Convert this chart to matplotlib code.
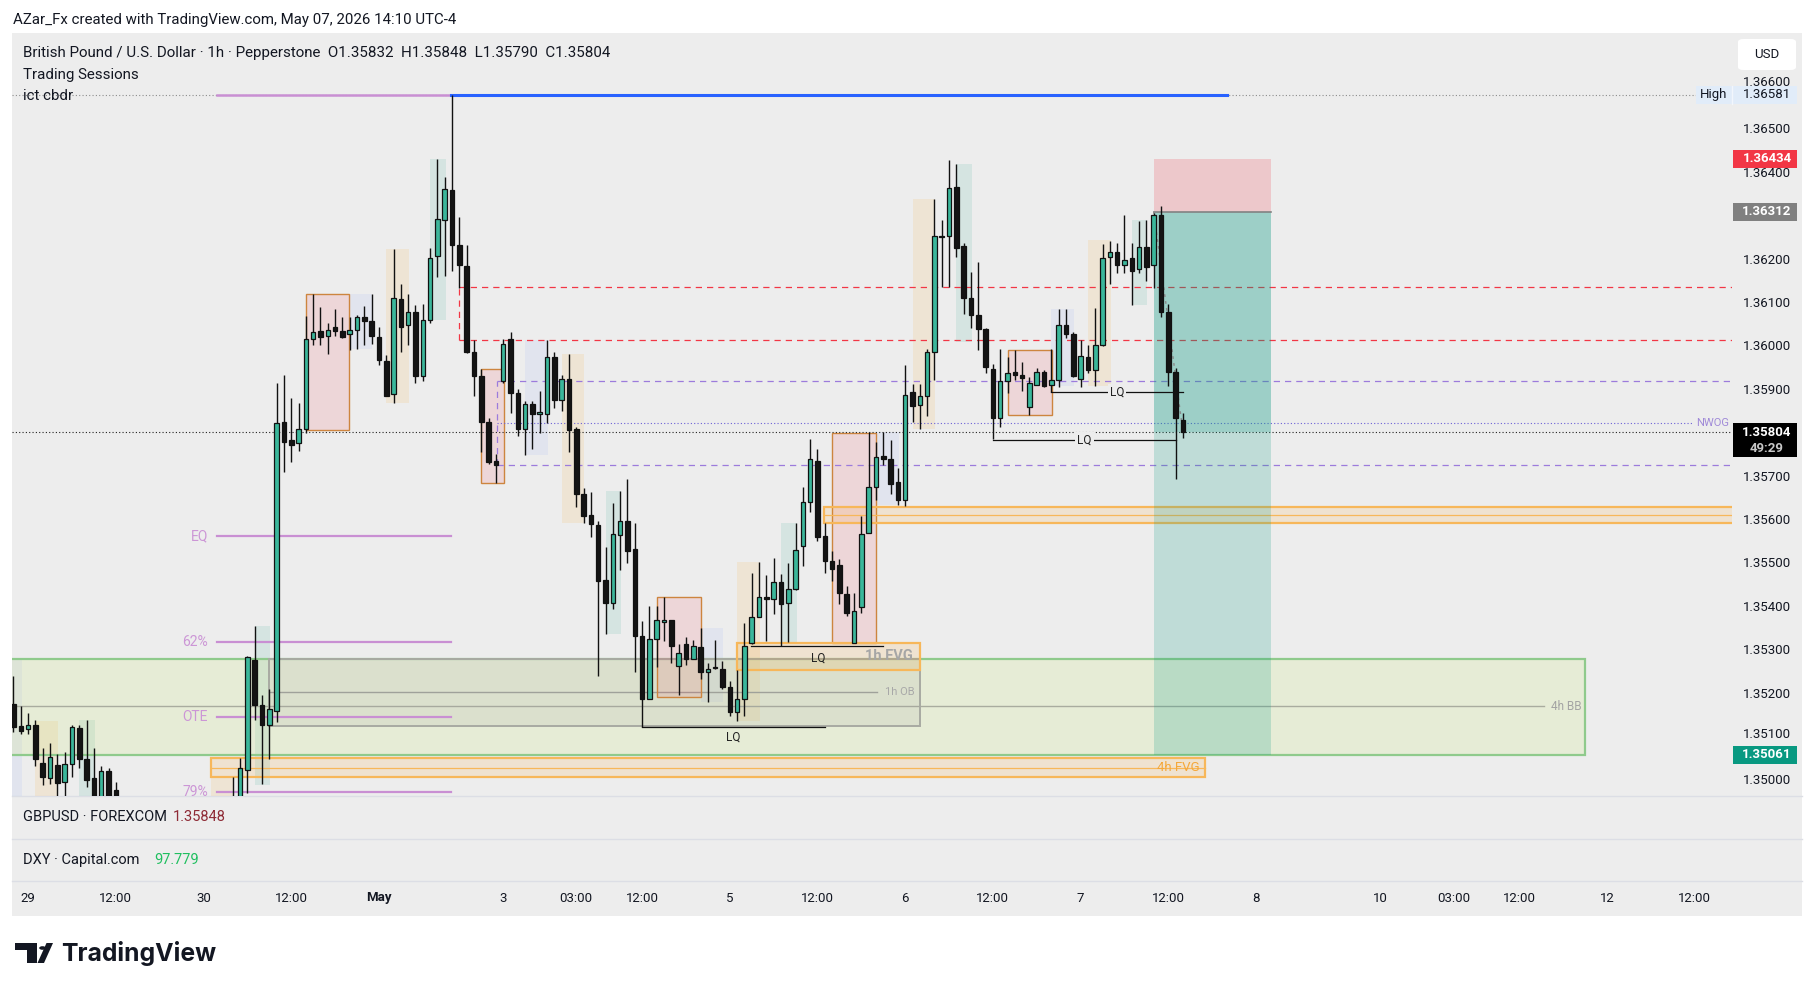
import numpy as np
import matplotlib
matplotlib.use("Agg")
import matplotlib.pyplot as plt
from matplotlib.patches import Rectangle, Polygon, Circle, FancyBboxPatch
from matplotlib.lines import Line2D
import matplotlib.transforms as mtransforms

W, H = 1815, 991
BG = '#ededed'
UP = '#3bb79b'
DN = '#141414'
plt.rcParams['font.family'] = ['Roboto', 'DejaVu Sans']

nan = np.nan
HID = [nan] * 15   # bars 15-29 sit below the visible range

# GBPUSD 1h candles, bar 0 = Apr 28 22:00, bar 67 = Sunday May 3 17:00
opens = [1.35178, 1.35127, 1.35119, 1.35130, 1.35042, 1.35006, 1.35037, 1.34998, 1.35038, 1.35123,
         1.35051, 1.35006, 1.34920, 1.35022, 1.34980] + HID + [
         1.34920, 1.34950, 1.35026, 1.35278, 1.35176, 1.35130, 1.35162, 1.35828, 1.35785, 1.35778,
         1.35810, 1.36018, 1.36036, 1.36026, 1.36046, 1.36036, 1.36031, 1.36039, 1.36068, 1.36061,
         1.36023, 1.35968, 1.35891, 1.36110, 1.36050, 1.36081, 1.35933, 1.36063, 1.36210, 1.36293,
         1.36361, 1.36235, 1.36187, 1.35989, 1.35933, 1.35828, 1.35738, 1.35921, 1.36018, 1.35893,
         1.35812, 1.35868, 1.35846, 1.35846, 1.35976, 1.35878, 1.35926, 1.35810, 1.35662, 1.35613,
         1.35590, 1.35463, 1.35410, 1.35567, 1.35598, 1.35535, 1.35333, 1.35190, 1.35328, 1.35367,
         1.35370, 1.35264, 1.35315, 1.35281, 1.35308, 1.35252, 1.35260, 1.35259, 1.35217, 1.35160,
         1.35188, 1.35317, 1.35378, 1.35424, 1.35420, 1.35458, 1.35410, 1.35442, 1.35542, 1.35643,
         1.35738, 1.35565, 1.35507, 1.35498, 1.35431, 1.35317, 1.35400, 1.35572, 1.35678, 1.35748,
         1.35743, 1.35690, 1.35648, 1.35896, 1.35867, 1.35888, 1.35988, 1.36255, 1.36256, 1.36369,
         1.36232, 1.36113, 1.36074, 1.36041, 1.35949, 1.35836, 1.35921, 1.35943, 1.35935, 1.35862,
         1.35912, 1.35943, 1.35912, 1.35923, 1.36050, 1.36031, 1.35926, 1.35976, 1.35947, 1.36004,
         1.36207, 1.36219, 1.36190, 1.36205, 1.36180, 1.36231, 1.36189, 1.36303, 1.36081, 1.35942,
         1.35832]
highs = [1.35241, 1.35172, 1.35156, 1.35141, 1.35077, 1.35088, 1.35063, 1.35067, 1.35130, 1.35130,
         1.35141, 1.35077, 1.35035, 1.35030, 1.34998] + HID + [
         1.35009, 1.35053, 1.35288, 1.35357, 1.35199, 1.35211, 1.35917, 1.35936, 1.35883, 1.35872,
         1.36071, 1.36121, 1.36092, 1.36055, 1.36087, 1.36069, 1.36068, 1.36074, 1.36095, 1.36121,
         1.36047, 1.35981, 1.36226, 1.36145, 1.36121, 1.36097, 1.36099, 1.36228, 1.36433, 1.36391,
         1.36581, 1.36300, 1.36235, 1.36016, 1.35949, 1.35836, 1.35754, 1.36018, 1.36035, 1.35904,
         1.35875, 1.35875, 1.35899, 1.36016, 1.35989, 1.35936, 1.35984, 1.35815, 1.35674, 1.35667,
         1.35600, 1.35539, 1.35641, 1.35669, 1.35696, 1.35595, 1.35368, 1.35403, 1.35403, 1.35423,
         1.35371, 1.35315, 1.35331, 1.35326, 1.35352, 1.35271, 1.35326, 1.35276, 1.35230, 1.35255,
         1.35365, 1.35479, 1.35505, 1.35474, 1.35513, 1.35476, 1.35502, 1.35595, 1.35678, 1.35787,
         1.35764, 1.35595, 1.35530, 1.35511, 1.35449, 1.35434, 1.35611, 1.35803, 1.35780, 1.35803,
         1.35785, 1.35722, 1.35958, 1.35915, 1.35915, 1.35996, 1.36342, 1.36293, 1.36430, 1.36422,
         1.36240, 1.36173, 1.36195, 1.36044, 1.35960, 1.35995, 1.35976, 1.35994, 1.35965, 1.35930,
         1.35951, 1.35947, 1.35995, 1.36087, 1.36087, 1.36034, 1.36016, 1.36005, 1.36089, 1.36238,
         1.36245, 1.36240, 1.36303, 1.36240, 1.36291, 1.36293, 1.36309, 1.36324, 1.36100, 1.35952,
         1.35848]
lows = [1.35114, 1.35109, 1.35109, 1.35035, 1.34990, 1.34993, 1.34940, 1.34950, 1.35009, 1.35030,
        1.34987, 1.34880, 1.34880, 1.34870, 1.34850] + HID + [
        1.34900, 1.34930, 1.34972, 1.35141, 1.34993, 1.35051, 1.35135, 1.35711, 1.35735, 1.35761,
        1.35801, 1.36005, 1.36004, 1.35984, 1.36025, 1.36021, 1.35994, 1.35995, 1.36005, 1.36007,
        1.35958, 1.35886, 1.35870, 1.35989, 1.36005, 1.35917, 1.35921, 1.36055, 1.36161, 1.36163,
        1.36174, 1.36137, 1.35986, 1.35886, 1.35757, 1.35730, 1.35687, 1.35917, 1.35847, 1.35796,
        1.35752, 1.35764, 1.35801, 1.35824, 1.35859, 1.35852, 1.35757, 1.35632, 1.35595, 1.35563,
        1.35241, 1.35338, 1.35397, 1.35486, 1.35503, 1.35252, 1.35125, 1.35188, 1.35262, 1.35323,
        1.35271, 1.35197, 1.35267, 1.35281, 1.35234, 1.35181, 1.35257, 1.35211, 1.35149, 1.35139,
        1.35149, 1.35315, 1.35378, 1.35323, 1.35384, 1.35310, 1.35320, 1.35440, 1.35495, 1.35619,
        1.35553, 1.35479, 1.35461, 1.35408, 1.35381, 1.35317, 1.35387, 1.35571, 1.35648, 1.35727,
        1.35661, 1.35637, 1.35634, 1.35828, 1.35812, 1.35841, 1.35923, 1.36139, 1.36139, 1.36208,
        1.36076, 1.36044, 1.35994, 1.35939, 1.35789, 1.35815, 1.35893, 1.35923, 1.35899, 1.35843,
        1.35912, 1.35907, 1.35896, 1.35907, 1.36021, 1.35930, 1.35907, 1.35939, 1.35909, 1.36002,
        1.36145, 1.36171, 1.36171, 1.36097, 1.36171, 1.36152, 1.36137, 1.36068, 1.35909, 1.35696,
        1.35790]
closes = [1.35125, 1.35116, 1.35130, 1.35051, 1.35009, 1.35056, 1.34995, 1.35040, 1.35125, 1.35051,
          1.35003, 1.34920, 1.35024, 1.34920, 1.34900] + HID + [
          1.34955, 1.35030, 1.35285, 1.35176, 1.35130, 1.35165, 1.35824, 1.35780, 1.35775, 1.35810,
          1.36018, 1.36034, 1.36023, 1.36039, 1.36036, 1.36023, 1.36039, 1.36068, 1.36061, 1.36026,
          1.35970, 1.35888, 1.36113, 1.36046, 1.36081, 1.35933, 1.36062, 1.36205, 1.36295, 1.36363,
          1.36235, 1.36190, 1.35989, 1.35933, 1.35828, 1.35736, 1.35727, 1.36007, 1.35893, 1.35812,
          1.35868, 1.35846, 1.35851, 1.35976, 1.35878, 1.35926, 1.35809, 1.35662, 1.35611, 1.35592,
          1.35460, 1.35410, 1.35569, 1.35598, 1.35530, 1.35333, 1.35188, 1.35328, 1.35370, 1.35371,
          1.35312, 1.35296, 1.35281, 1.35312, 1.35252, 1.35259, 1.35262, 1.35217, 1.35160, 1.35188,
          1.35312, 1.35378, 1.35424, 1.35420, 1.35458, 1.35408, 1.35442, 1.35532, 1.35643, 1.35743,
          1.35563, 1.35508, 1.35489, 1.35434, 1.35386, 1.35392, 1.35569, 1.35678, 1.35746, 1.35741,
          1.35685, 1.35648, 1.35889, 1.35865, 1.35888, 1.35988, 1.36255, 1.36254, 1.36367, 1.36229,
          1.36113, 1.36074, 1.36041, 1.35954, 1.35836, 1.35921, 1.35939, 1.35935, 1.35928, 1.35917,
          1.35943, 1.35909, 1.35923, 1.36050, 1.36031, 1.35933, 1.35979, 1.35947, 1.36004, 1.36205,
          1.36219, 1.36190, 1.36200, 1.36174, 1.36231, 1.36185, 1.36303, 1.36081, 1.35942, 1.35836,
          1.35804]

# time axis (bar index -> label)
time_pos = [2, 14, 26, 38, 50, 67, 77, 86, 98, 110, 122, 134, 146, 158, 170, 187, 197, 206, 218, 230]
time_txt = ['29', '12:00', '30', '12:00', 'May', '3', '03:00', '12:00', '5', '12:00', '6', '12:00',
            '7', '12:00', '8', '10', '03:00', '12:00', '12', '12:00']
# price scale (1.36300 and 1.35800 are hidden behind the price labels)
price_ticks = [1.366, 1.365, 1.364, 1.362, 1.361, 1.360, 1.359, 1.357, 1.356,
               1.355, 1.354, 1.353, 1.352, 1.351, 1.350]

# trading sessions (start bar, top, bottom)
ny_start = [3, 27, 51, 75, 99, 123, 147]
ny_top = [1.35139, 1.35009, 1.36226, 1.35984, 1.35505, 1.36342, 1.36247]
ny_bot = [1.3490, 1.3490, 1.35870, 1.35595, 1.35139, 1.35810, 1.35909]
ldn_start = [9, 33, 57, 81, 105, 129, 153]
ldn_top = [1.35141, 1.35357, 1.36433, 1.35669, 1.35595, 1.36422, 1.36293]
ldn_bot = [1.3490, 1.34990, 1.36063, 1.35338, 1.35320, 1.36011, 1.36097]
asia_start = [-2, 46, 70, 94, 118, 142]
asia_top = [1.35281, 1.36121, 1.36016, 1.35352, 1.35803, 1.36087]
asia_bot = [1.3490, 1.35995, 1.35752, 1.35181, 1.35637, 1.35909]
# cbdr boxes
cb_start = [40, 64, 88, 112, 136]
cb_end = [45.9, 67.1, 94.1, 118.0, 142.1]
cb_top = [1.36121, 1.35949, 1.35423, 1.35801, 1.35994]
cb_bot = [1.35809, 1.35687, 1.35193, 1.35317, 1.35843]

# fib levels off the 1.36581 high
fib_names = ['EQ', '62%', 'OTE', '79%']
fib_vals = [1.35564, 1.35320, 1.35147, 1.34974]

high_px = 1.36581
stop_px, entry_px, target_px = 1.36434, 1.36312, 1.35061
last_px = 1.35804

# ---------------------------------------------------------------
PPX = 1 / 43400.0          # price per pixel
Y_LO, Y_HI = 1.349654, 1.367235
X_LO, X_HI = -0.205, 235.12

fig = plt.figure(figsize=(W / 100, H / 100), dpi=100, facecolor='white')


def fx(px):
    return px / W


def fy(py):
    return 1 - py / H


fig.add_artist(Rectangle((fx(12), fy(916)), fx(1790), 883 / H, transform=fig.transFigure,
                         facecolor=BG, edgecolor='none', zorder=-5))
for yy in (796, 839, 881):
    fig.add_artist(Line2D([fx(12), fx(1802)], [fy(yy), fy(yy)], color='#dcdee5', lw=1,
                          transform=fig.transFigure, zorder=-4))

ax = fig.add_axes([fx(12), fy(796), fx(1720), 763 / H])
ax.set_xlim(X_LO, X_HI)
ax.set_ylim(Y_LO, Y_HI)
ax.set_facecolor(BG)
ax.axis('off')

axp = fig.add_axes([fx(1732), fy(796), fx(70), 763 / H])
axp.set_xlim(1732, 1802)
axp.set_ylim(Y_LO, Y_HI)
axp.set_facecolor(BG)
axp.axis('off')

# sessions
for s, t, b in zip(ny_start, ny_top, ny_bot):
    ax.add_patch(Rectangle((s, b), 3.1, t - b, facecolor='#ff9800', alpha=0.1, lw=0, zorder=1))
for s, t, b in zip(ldn_start, ldn_top, ldn_bot):
    ax.add_patch(Rectangle((s, b), 2.15, t - b, facecolor='#089981', alpha=0.1, lw=0, zorder=1))
for s, t, b in zip(asia_start, asia_top, asia_bot):
    ax.add_patch(Rectangle((s, b), 3.1, t - b, facecolor='#2962ff', alpha=0.06, lw=0, zorder=1))
for s, e, t, b in zip(cb_start, cb_end, cb_top, cb_bot):
    ax.add_patch(Rectangle((s, b), e - s, t - b, facecolor='#f23645', alpha=0.12, lw=0, zorder=1.5))
    ax.add_patch(Rectangle((s, b), e - s, t - b, facecolor='none', edgecolor='#cd853f', lw=1.0, zorder=1.6))

# 4h BB zone
ax.add_patch(Rectangle((-3, 1.35061), 218.0, 1.35282 - 1.35061, facecolor='#cde87c', alpha=0.2,
                       edgecolor='none', zorder=1.2))
ax.add_patch(Rectangle((-3, 1.35061), 218.0, 1.35282 - 1.35061, facecolor='none',
                       edgecolor='#8fca8c', lw=1.6, zorder=1.3))
ax.plot([-3, 209.4], [1.35172, 1.35172], color='#a9ac9f', lw=1.0, zorder=1.3)
ax.text(214.5, 1.35172, '4h BB', ha='right', va='center', color='#a3a3a3', fontsize=8.5, zorder=2)

# 1h OB
ax.add_patch(Rectangle((35.0, 1.35127), 89.0, 1.35282 - 1.35127, facecolor='#9e9e9e', alpha=0.15,
                       edgecolor='none', zorder=1.4))
ax.add_patch(Rectangle((35.0, 1.35127), 89.0, 1.35282 - 1.35127, facecolor='none',
                       edgecolor='#a8aaa2', lw=1.4, zorder=1.45))
ax.plot([35.0, 118.1], [1.35205, 1.35205], color='#9fa19a', lw=1.0, zorder=1.45)
ax.text(123.3, 1.35205, '1h OB', ha='right', va='center', color='#a8a8a8', fontsize=8, zorder=2)

# FVGs
def fvg(x0, x1, top, bot, mid=None):
    ax.add_patch(Rectangle((x0, bot), x1 - x0, top - bot, facecolor='#ff9800', alpha=0.12,
                           edgecolor='none', zorder=1.7))
    ax.add_patch(Rectangle((x0, bot), x1 - x0, top - bot, facecolor='none',
                           edgecolor='#f7b75a', lw=1.6, zorder=1.75))
    if mid is not None:
        ax.plot([x0, x1], [mid, mid], color='#f7b75a', lw=0.9, zorder=1.75)


fvg(27.0, 163.0, 1.35053, 1.35009, 1.35031)
ax.text(162.3, 1.35031, '4h FVG', ha='right', va='center', color='#f5a83a', fontsize=9.5, zorder=2)
fvg(99.0, 124.0, 1.35318, 1.35256)
ax.text(123.1, 1.35287, '1h FVG', ha='right', va='center', color='#a6a6a6', fontsize=10.5,
        fontweight='bold', zorder=2)
fvg(110.9, 236.0, 1.35632, 1.35595, 1.35613)

# fib lines
for name, v in zip(fib_names, fib_vals):
    ax.plot([27.8, 59.9], [v, v], color='#c98fd3', lw=1.6, zorder=2)
    ax.text(26.6, v, name, ha='right', va='center', color='#cc96d6', fontsize=10, zorder=2)

# high line
ax.plot([X_LO, 230.2], [high_px, high_px], color='#8c8c8c', lw=0.8, ls=(0, (1, 2)), zorder=1.8)
ax.plot([27.8, 59.9], [high_px, high_px], color='#c98fd3', lw=1.8, zorder=2)
ax.plot([59.9, 166.0], [high_px, high_px], color='#2962ff', lw=2.2, zorder=2)

# red dashed range
for v in (1.36138, 1.36016):
    ax.plot([61.0, 236], [v, v], color='#f23645', lw=0.9, ls=(0, (5, 4)), zorder=2)
ax.plot([61.0, 61.0], [1.36016, 1.36138], color='#f23645', lw=0.9, ls=(0, (5, 4)), zorder=2)

# NWOG
for v in (1.35921, 1.35728):
    ax.plot([66.15, 236], [v, v], color='#9c7bdc', lw=0.9, ls=(0, (5, 4)), zorder=2)
ax.plot([66.15, 66.15], [1.35728, 1.35921], color='#9c7bdc', lw=0.9, ls=(0, (5, 4)), zorder=2)
ax.plot([66.15, 229.6], [1.35825, 1.35825], color='#6b5fd6', lw=0.8, ls=(0, (1, 2)), zorder=2)
ax.text(234.7, 1.35825, 'NWOG', ha='right', va='center', color='#a08ad8', fontsize=8, zorder=2)

# position tool (short)
ax.add_patch(Rectangle((156.0, entry_px), 16.1, stop_px - entry_px, facecolor='#f23645', alpha=0.2,
                       lw=0, zorder=3))
ax.add_patch(Rectangle((156.0, last_px), 16.1, entry_px - last_px, facecolor='#089981', alpha=0.35,
                       lw=0, zorder=3))
ax.add_patch(Rectangle((156.0, target_px), 16.1, last_px - target_px, facecolor='#089981', alpha=0.2,
                       lw=0, zorder=3))
ax.plot([156.0, 172.1], [entry_px, entry_px], color='#828282', lw=1.2, zorder=3.1)
ax.plot([156.0, 160.0], [entry_px, last_px], color='#8a8a8a', lw=1.0, ls=(0, (2, 3)), zorder=3.1)

# current price line
ax.plot([X_LO, X_HI], [last_px, last_px], color='#222222', lw=0.8, ls=(0, (1, 2)), zorder=2)

# candles
o = np.array(opens)
h = np.array(highs)
l = np.array(lows)
c = np.array(closes)
idx = np.arange(len(o))
ok = ~np.isnan(o)
up = ok & (c >= o)
dn = ok & (c < o)
ax.vlines(idx[ok], l[ok], h[ok], color='#111111', lw=1.0, zorder=5)
body = np.maximum(np.abs(c - o), 0.000018)
bot = np.minimum(o, c)
ax.bar(idx[up], body[up], bottom=bot[up], width=0.62, color=UP, edgecolor='#111111',
       linewidth=0.9, zorder=6)
ax.bar(idx[dn], body[dn], bottom=bot[dn], width=0.62, color=DN, edgecolor='#111111',
       linewidth=0.9, zorder=6)

# liquidity lines
lq = [(86.0, 111.0, 1.35125), (100.9, 118.9, 1.35312), (142.0, 160.0, 1.35896), (134.0, 159.0, 1.35785)]
for x0, x1, v in lq:
    ax.plot([x0, x1], [v, v], color='#111111', lw=0.9, zorder=4)
ax.text(98.4, 1.35125 - 10 * PPX, 'LQ', ha='center', va='center', fontsize=8.5, color='#222222', zorder=7)
ax.text(110.1, 1.35312 - 12 * PPX, 'LQ', ha='center', va='center', fontsize=8.5, color='#222222', zorder=7)
for xm, v in ((151.0, 1.35896), (146.5, 1.35785)):
    ax.text(xm, v, 'LQ', ha='center', va='center', fontsize=8.5, color='#222222', zorder=7,
            bbox=dict(facecolor=BG, edgecolor='none', pad=1.5))

# ---------------------------------------------------------------
# price scale
for p in price_ticks:
    yv = p
    if abs(p - 1.351) < 1e-9:
        yv = p + 3 * PPX
    if abs(p - 1.366) < 1e-9:
        yv = p + 4 * PPX
    axp.text(1767, yv, '%.5f' % p, ha='center', va='center', fontsize=9.5, color='#131722', zorder=2)


def plabel(p, txt, fc, tc='white', h_px=18, weight='bold'):
    axp.add_patch(Rectangle((1733, p - h_px / 2 * PPX), 64, h_px * PPX, facecolor=fc,
                            edgecolor='none', zorder=5, clip_on=False))
    axp.text(1767, p, txt, ha='center', va='center', fontsize=9.5, color=tc, fontweight=weight,
             zorder=6, clip_on=False)


axp.add_patch(Rectangle((1696, high_px - 9 * PPX), 101, 18 * PPX, facecolor='#e1ecf9',
                        edgecolor='none', zorder=5, clip_on=False))
axp.plot([1732.5, 1732.5], [high_px - 9 * PPX, high_px + 9 * PPX], color='#f2f6fc', lw=1, zorder=5.5,
         clip_on=False)
axp.text(1714, high_px, 'High', ha='center', va='center', fontsize=9.5, color='#131722', zorder=6,
         clip_on=False)
axp.text(1767, high_px, '1.36581', ha='center', va='center', fontsize=9.5, color='#131722', zorder=6,
         clip_on=False)
plabel(stop_px, '1.36434', '#f23645')
plabel(entry_px, '1.36312', '#808080')
plabel(target_px, '1.35061', '#089981')
# last price with countdown
axp.add_patch(Rectangle((1733, last_px - 25 * PPX), 64, 34 * PPX, facecolor='#000000',
                        edgecolor='none', zorder=5, clip_on=False))
axp.text(1767, last_px, '1.35804', ha='center', va='center', fontsize=9.5, color='white',
         fontweight='bold', zorder=6)
axp.text(1767, last_px - 16 * PPX, '49:29', ha='center', va='center', fontsize=9.5, color='#c8c8c8',
         fontweight='bold', zorder=6)

fig.add_artist(FancyBboxPatch((fx(1738), fy(70)), fx(58), 31 / H, transform=fig.transFigure,
                              boxstyle='round,pad=0,rounding_size=0.003', facecolor='white',
                              edgecolor='none', zorder=3))
fig.text(fx(1767), fy(55), 'USD', ha='center', va='center', fontsize=9.5, color='#131722', zorder=4)

# time axis
tx = mtransforms.blended_transform_factory(ax.transData, fig.transFigure)
for p, t in zip(time_pos, time_txt):
    fig.text(p, fy(898), t, transform=tx, ha='center', va='center', fontsize=9.5, color='#131722',
             fontweight='bold' if t == 'May' else 'normal')

# legend texts
fig.text(fx(13), fy(20), 'AZar_Fx created with TradingView.com, May 07, 2026 14:10 UTC-4',
         ha='left', va='center', fontsize=10.8, color='#131722')
fig.text(fx(23), fy(53), 'British Pound / U.S. Dollar \u00b7 1h \u00b7 Pepperstone  O1.35832  H1.35848  '
         'L1.35790  C1.35804', ha='left', va='center', fontsize=10.9, color='#131722')
fig.text(fx(23), fy(75), 'Trading Sessions', ha='left', va='center', fontsize=10.9, color='#131722')
fig.text(fx(23), fy(96), 'ict cbdr', ha='left', va='center', fontsize=10.9, color='#131722')

fig.text(fx(23), fy(817), 'GBPUSD \u00b7 FOREXCOM', ha='left', va='center', fontsize=10.5, color='#131722')
fig.text(fx(173), fy(817), '1.35848', ha='left', va='center', fontsize=10.5, color='#8e2a35')
fig.text(fx(23), fy(860), 'DXY \u00b7 Capital.com', ha='left', va='center', fontsize=10.5, color='#131722')
fig.text(fx(154), fy(860), '97.779', ha='left', va='center', fontsize=10.5, color='#1fbf5f')

# TradingView logo
def fpoly(pts, **kw):
    fig.add_artist(Polygon([(fx(a), fy(b)) for a, b in pts], closed=True, transform=fig.transFigure, **kw))


fpoly([(15, 943), (37, 943), (37, 963), (27, 963), (27, 950), (15, 950)], facecolor='#131722', lw=0)
fig.add_artist(Circle((fx(42.5), fy(948)), 3.3 / W, transform=fig.transFigure, facecolor='#131722', lw=0))
fpoly([(46.5, 943), (53, 943), (44, 963), (37.5, 963)], facecolor='#131722', lw=0)
fig.text(fx(61), fy(954), 'TradingView', ha='left', va='center', fontsize=17.8, fontweight='bold',
         color='#131722', family=['Inter', 'DejaVu Sans'])

fig.savefig('out.png', dpi=100, facecolor='white')
